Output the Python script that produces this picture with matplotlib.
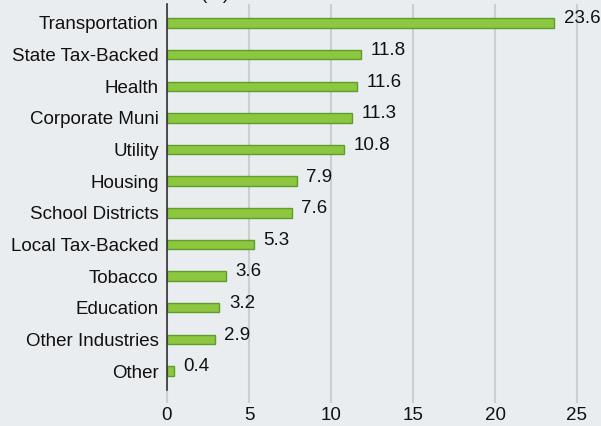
import matplotlib
matplotlib.use("Agg")
import matplotlib.pyplot as plt
import numpy as np

categories = ["Transportation", "State Tax-Backed", "Health", "Corporate Muni",
              "Utility", "Housing", "School Districts", "Local Tax-Backed",
              "Tobacco", "Education", "Other Industries", "Other"]
values = [23.6, 11.8, 11.6, 11.3, 10.8, 7.9, 7.6, 5.3, 3.6, 3.2, 2.9, 0.4]
value_labels = ["23.6", "11.8", "11.6", "11.3", "10.8", "7.9", "7.6", "5.3",
                "3.6", "3.2", "2.9", "0.4"]
x_ticks = [0, 5, 10, 15, 20, 25]

bg = "#E9EDF0"
plt.rcParams['font.family'] = ['Liberation Sans', 'DejaVu Sans']
fs = 13.5

fig = plt.figure(figsize=(6.01, 4.26), dpi=100, facecolor=bg)
ax = fig.add_axes([167/601, 1 - 390/426, 1 - 167/601, (390 - 4)/426])
ax.set_facecolor(bg)

y = np.arange(len(categories))
ax.barh(y, values, height=0.3, color="#8DC63F", edgecolor="#5F9E2C", linewidth=1, zorder=3)

for yi, v, lab in zip(y, values, value_labels):
    ax.annotate(lab, (v, yi), xytext=(7, 3), textcoords="offset points",
                va="center", ha="left", fontsize=fs, color="#111111")

ax.set_xlim(0, (601 - 167) / 16.4)
ax.set_ylim(11.6, -0.6)
ax.set_yticks(y)
ax.set_yticklabels(categories, fontsize=fs, color="#111111")
ax.set_xticks(x_ticks)
ax.set_xticklabels([str(t) for t in x_ticks], fontsize=fs, color="#111111")
ax.tick_params(axis="y", length=0, pad=6)
ax.tick_params(axis="x", length=9, width=1.5, color="#CBCED2", pad=3)
ax.grid(axis="x", color="#CBCED2", linewidth=1.5, zorder=0)
for s in ["top", "right", "bottom"]:
    ax.spines[s].set_visible(False)
ax.spines["left"].set_color("#333333")
ax.spines["left"].set_linewidth(1.2)
ax.spines["left"].set_zorder(4)

fig.text(215/601, 1 + 1/426, "(%)", ha="center", va="baseline", fontsize=fs, color="#111111")

fig.savefig("out.png", dpi=100, facecolor=bg)
